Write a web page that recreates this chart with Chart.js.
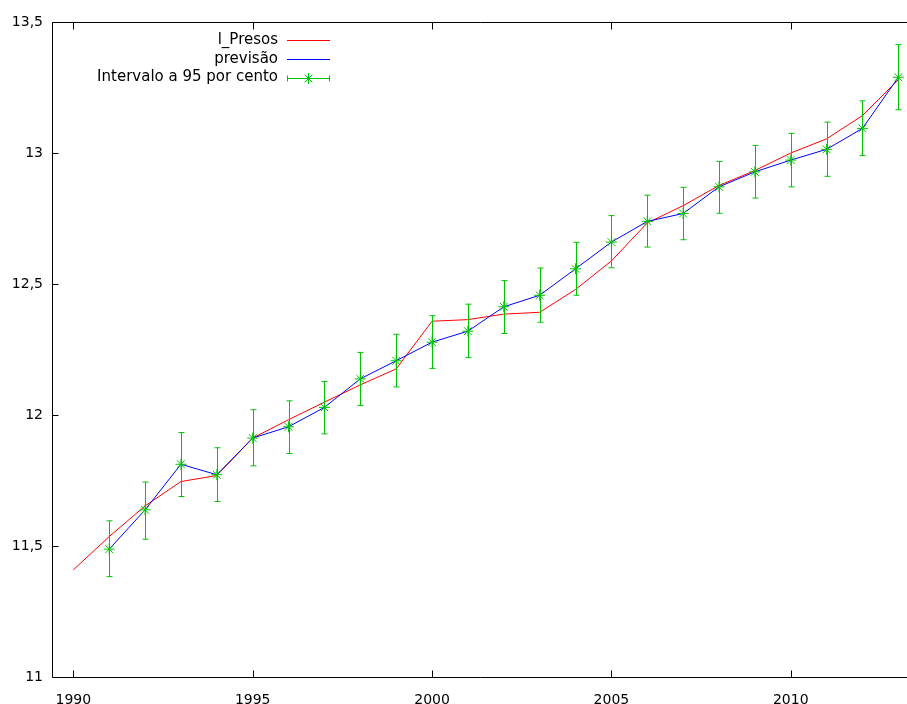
<!DOCTYPE html>
<html><head><meta charset="utf-8">
<script src="https://cdn.jsdelivr.net/npm/chart.js@4.4.1/dist/chart.umd.min.js"></script>
<style>html,body{margin:0;padding:0;background:#fff;}canvas{display:block}</style>
</head><body>
<canvas id="c" width="907" height="704"></canvas>
<script>
// ---- data ----
const years = [1990,1991,1992,1993,1994,1995,1996,1997,1998,1999,2000,2001,2002,2003,2004,2005,2006,2007,2008,2009,2010,2011,2012,2013];
const presos = [11.409,11.536,11.653,11.746,11.769,11.912,11.982,12.049,12.115,12.176,12.358,12.364,12.385,12.392,12.479,12.588,12.733,12.799,12.876,12.933,13.000,13.054,13.143,13.280];
const forecastYears = [1991,1992,1993,1994,1995,1996,1997,1998,1999,2000,2001,2002,2003,2004,2005,2006,2007,2008,2009,2010,2011,2012,2013];
const previsao = [11.488,11.638,11.812,11.772,11.912,11.955,12.029,12.138,12.207,12.278,12.320,12.413,12.457,12.558,12.660,12.739,12.769,12.871,12.928,12.973,13.014,13.094,13.289];
const lower = [11.383,11.526,11.689,11.670,11.806,11.853,11.928,12.036,12.107,12.178,12.219,12.311,12.354,12.457,12.562,12.641,12.669,12.770,12.828,12.871,12.911,12.990,13.165];
const upper = [11.596,11.744,11.933,11.875,12.020,12.054,12.128,12.239,12.308,12.379,12.423,12.513,12.561,12.659,12.761,12.839,12.869,12.968,13.029,13.075,13.118,13.199,13.414];
const xTicks = [1990,1995,2000,2005,2010];
const yTicks = [11,11.5,12,12.5,13,13.5];
const yTickLabels = ['11','11,5','12','12,5','13','13,5'];
const seriesNames = ['l_Presos','previsão','Intervalo a 95 por cento'];

const RED = '#ff0000', BLUE = '#0000ff', GREEN = '#00c400';
const FONT = '"DejaVu Sans", Verdana, sans-serif';

const framePlugin = {
  id: 'frame',
  beforeDatasetDraw(chart, args) {
    if (args.index !== 2) return;
    const ctx = chart.ctx, xs = chart.scales.x, ys = chart.scales.y;
    ctx.save();
    ctx.strokeStyle = GREEN; ctx.lineWidth = 1;
    forecastYears.forEach((yr, i) => {
      const px = Math.round(xs.getPixelForValue(yr)) + 0.5;
      const t = ys.getPixelForValue(upper[i]), b = ys.getPixelForValue(lower[i]);
      ctx.beginPath();
      ctx.moveTo(px, t); ctx.lineTo(px, b);
      ctx.moveTo(px - 3, t); ctx.lineTo(px + 3, t);
      ctx.moveTo(px - 3, b); ctx.lineTo(px + 3, b);
      ctx.stroke();
    });
    ctx.restore();
  },
  afterDraw(chart) {
    const ctx = chart.ctx, a = chart.chartArea, xs = chart.scales.x, ys = chart.scales.y;
    ctx.save();
    ctx.strokeStyle = '#000'; ctx.lineWidth = 1;
    const L = a.left - 0.5, B = a.bottom + 0.5, T = a.top + 0.5, R = a.right;
    ctx.beginPath();
    ctx.moveTo(L, T); ctx.lineTo(R + 2, T);
    ctx.moveTo(L, T); ctx.lineTo(L, B);
    ctx.moveTo(L, B); ctx.lineTo(R + 2, B);
    xTicks.forEach(v => {
      const px = Math.round(xs.getPixelForValue(v)) + 0.5;
      ctx.moveTo(px, B); ctx.lineTo(px, B - 7);
      ctx.moveTo(px, T); ctx.lineTo(px, T + 7);
    });
    yTicks.forEach(v => {
      const py = Math.round(ys.getPixelForValue(v)) + 0.5;
      ctx.moveTo(L, py); ctx.lineTo(L + 6, py);
    });
    ctx.stroke();

    // legend
    ctx.font = '15px ' + FONT;
    ctx.textAlign = 'right'; ctx.textBaseline = 'middle'; ctx.fillStyle = '#000';
    const rows = [40, 59, 77.5];
    const tx = 278, x1 = 287, x2 = 330;
    seriesNames.forEach((n, i) => ctx.fillText(n, tx, rows[i]));
    ctx.lineWidth = 1;
    ctx.strokeStyle = RED;
    ctx.beginPath(); ctx.moveTo(x1, rows[0] + 0.5); ctx.lineTo(x2, rows[0] + 0.5); ctx.stroke();
    ctx.strokeStyle = BLUE;
    ctx.beginPath(); ctx.moveTo(x1, rows[1] + 0.5); ctx.lineTo(x2, rows[1] + 0.5); ctx.stroke();
    ctx.strokeStyle = GREEN;
    const gy = Math.round(rows[2]) + 0.5;
    ctx.beginPath();
    ctx.moveTo(x1, gy); ctx.lineTo(x2, gy);
    ctx.moveTo(x1 + 0.5, gy - 3); ctx.lineTo(x1 + 0.5, gy + 3);
    ctx.moveTo(x2 - 0.5, gy - 3); ctx.lineTo(x2 - 0.5, gy + 3);
    ctx.stroke();
    Chart.helpers.drawPoint(ctx, {pointStyle: 'star', radius: 5.5, borderWidth: 1}, (x1 + x2) / 2, gy);
    ctx.restore();
  }
};

const toPts = (xs, ys) => xs.map((x, i) => ({x: x, y: ys[i]}));

new Chart(document.getElementById('c'), {
  type: 'line',
  data: {
    datasets: [
      {label: seriesNames[0], data: toPts(years, presos), borderColor: RED, borderWidth: 1, pointRadius: 0, tension: 0, order: 3},
      {label: seriesNames[1], data: toPts(forecastYears, previsao), borderColor: BLUE, borderWidth: 1, pointRadius: 0, tension: 0, order: 2},
      {label: seriesNames[2], data: toPts(forecastYears, previsao), showLine: false, borderColor: GREEN, backgroundColor: GREEN,
       pointStyle: 'star', pointRadius: 5.5, pointBorderWidth: 1, pointBorderColor: GREEN, order: 1, clip: 8}
    ]
  },
  options: {
    responsive: false,
    animation: false,
    devicePixelRatio: 1,
    layout: {autoPadding: false, padding: {top: 22, right: 0, left: 0, bottom: 0}},
    plugins: {legend: {display: false}, tooltip: {enabled: false}},
    events: [],
    scales: {
      x: {
        type: 'linear', min: 1989.433, max: 2013.241,
        afterBuildTicks: s => { s.ticks = xTicks.map(v => ({value: v})); },
        afterFit: s => { s.height = 27; s.paddingLeft = 0; s.paddingRight = 0; },
        ticks: {callback: v => String(v), maxRotation: 0, autoSkip: false, padding: 15, color: '#000', font: {family: FONT, size: 14}},
        grid: {display: false, drawTicks: false},
        border: {display: false}
      },
      y: {
        type: 'linear', min: 11, max: 13.5,
        afterBuildTicks: s => { s.ticks = yTicks.map(v => ({value: v})); },
        afterFit: s => { s.width = 53; s.paddingTop = 0; s.paddingBottom = 0; },
        ticks: {callback: v => yTickLabels[yTicks.indexOf(v)], padding: 10, color: '#000', font: {family: FONT, size: 14}},
        grid: {display: false, drawTicks: false},
        border: {display: false}
      }
    }
  },
  plugins: [framePlugin]
});
</script>
</body></html>
